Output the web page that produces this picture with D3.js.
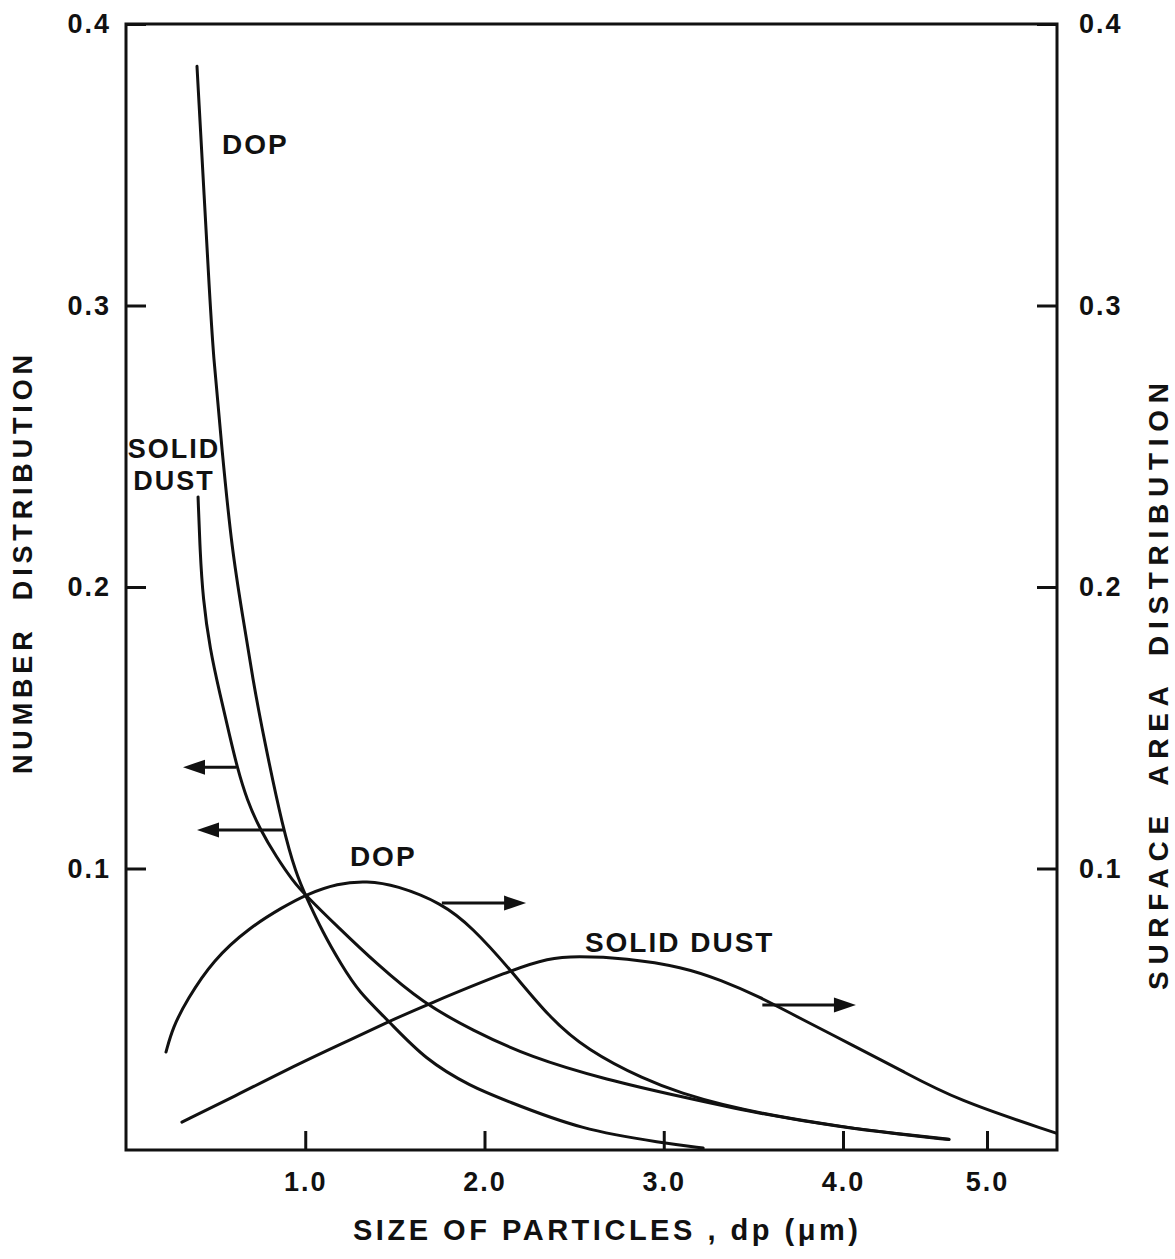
<!DOCTYPE html>
<html>
<head>
<meta charset="utf-8">
<script src="https://cdn.jsdelivr.net/npm/d3@7"></script>
<style>
  html, body { margin: 0; padding: 0; background: #fff; }
  svg { display: block; }
  text { font-family: "Liberation Sans", Arial, sans-serif; font-weight: bold; fill: #111; }
</style>
</head>
<body>
<svg id="chart" width="1175" height="1259"></svg>
<script>
// Particle size (µm) versus number / surface-area distribution
const xTicks = [1.0, 2.0, 3.0, 4.0, 5.0];
const yTicks = [0.1, 0.2, 0.3, 0.4];

// Number distribution, DOP (left axis)
const dopNumberX = [0.396, 0.468, 0.485, 0.535, 0.591, 0.653, 0.708, 0.77, 0.876, 0.95, 1.0, 1.1, 1.2, 1.3, 1.46, 1.67, 1.93, 2.11, 2.54, 3.0, 3.22];
const dopNumberY = [0.385, 0.302, 0.284, 0.249, 0.213, 0.189, 0.167, 0.146, 0.114, 0.098, 0.0906, 0.077, 0.066, 0.056, 0.0462, 0.032, 0.0224, 0.0178, 0.0071, 0.0025, 0.0007];

// Number distribution, solid dust (left axis)
const dustNumberX = [0.402, 0.413, 0.429, 0.468, 0.524, 0.58, 0.62, 0.675, 0.747, 0.84, 0.931, 1.0, 1.182, 1.40, 1.656, 1.93, 2.253, 2.683, 3.107, 3.5, 4.0, 4.375, 4.736];
const dustNumberY = [0.232, 0.213, 0.196, 0.178, 0.162, 0.1467, 0.136, 0.1243, 0.114, 0.104, 0.0956, 0.0906, 0.0792, 0.066, 0.0522, 0.0426, 0.033, 0.0249, 0.0188, 0.0133, 0.0080, 0.0057, 0.0037];

// Surface area distribution, DOP (right axis)
const dopSurfaceX = [0.223, 0.262, 0.340, 0.485, 0.692, 0.876, 0.998, 1.182, 1.344, 1.506, 1.762, 1.93, 2.147, 2.359, 2.571, 2.895, 3.107, 3.318, 3.6, 4.0, 4.375, 4.736];
const dopSurfaceY = [0.0348, 0.0437, 0.0533, 0.0675, 0.0792, 0.0863, 0.0906, 0.0948, 0.0956, 0.0941, 0.0877, 0.0792, 0.0639, 0.0472, 0.0355, 0.0249, 0.020, 0.0162, 0.0123, 0.0082, 0.0058, 0.0038];

// Surface area distribution, solid dust (right axis)
const dustSurfaceX = [0.312, 0.597, 0.970, 1.249, 1.461, 1.673, 2.147, 2.359, 2.51, 2.789, 3.107, 3.318, 3.536, 3.748, 4.09, 4.40, 4.785, 5.48];
const dustSurfaceY = [0.0099, 0.0188, 0.0309, 0.0391, 0.0455, 0.0515, 0.0639, 0.0682, 0.0689, 0.0682, 0.065, 0.0604, 0.0544, 0.0472, 0.0366, 0.0284, 0.0178, 0.006];

// Arrows telling which axis each curve belongs to: [y, tail x, head x]
const arrowY    = [0.136, 0.1137, 0.0877, 0.0515];
const arrowTail = [0.615, 0.876, 1.762, 3.55];
const arrowHead = [0.318, 0.396, 2.232, 4.09];

const svg = d3.select("#chart");
// the printed abscissa is slightly compressed beyond 4.0 µm
const x = d3.scaleLinear().domain([0, 4, 5, 5.486]).range([126, 843, 987, 1057]);
const y = d3.scaleLinear().domain([0, 0.4]).range([1150, 24]);
const fmt = d3.format(".1f");
const xLeft = x(0), xRight = x(5.486);

// axes with inward ticks
const styleAxis = g => {
  g.select(".domain").remove();
  g.selectAll(".tick line").attr("stroke", "#111").attr("stroke-width", 3);
  g.selectAll(".tick text").attr("font-size", 27).attr("letter-spacing", 2)
    .attr("font-family", "Liberation Sans, Arial, sans-serif").attr("font-weight", "bold").attr("fill", "#111");
};
svg.append("g").attr("transform", `translate(${xLeft},0)`)
  .call(d3.axisLeft(y).tickValues(yTicks).tickSize(-20).tickPadding(15).tickFormat(fmt))
  .call(styleAxis);
svg.append("g").attr("transform", `translate(${xRight},0)`)
  .call(d3.axisRight(y).tickValues(yTicks).tickSize(-20).tickPadding(22).tickFormat(fmt))
  .call(styleAxis);
svg.append("g").attr("transform", `translate(0,${y.range()[0]})`)
  .call(d3.axisBottom(x).tickValues(xTicks).tickSize(-19).tickPadding(22).tickFormat(fmt))
  .call(styleAxis);

// frame
svg.append("rect")
  .attr("x", xLeft).attr("y", y.range()[1])
  .attr("width", xRight - xLeft)
  .attr("height", y.range()[0] - y.range()[1])
  .attr("fill", "none").attr("stroke", "#111").attr("stroke-width", 3);

// curves
const line = d3.line().x(d => x(d[0])).y(d => y(d[1])).curve(d3.curveBasis);
const series = [
  [dopNumberX, dopNumberY],
  [dustNumberX, dustNumberY],
  [dopSurfaceX, dopSurfaceY],
  [dustSurfaceX, dustSurfaceY]
];
series.forEach(([xs, ys]) => {
  svg.append("path")
    .datum(xs.map((v, i) => [v, ys[i]]))
    .attr("d", line)
    .attr("fill", "none").attr("stroke", "#111")
    .attr("stroke-width", 3).attr("stroke-linejoin", "round").attr("stroke-linecap", "round");
});

// arrows
arrowY.forEach((v, i) => {
  const yy = y(v), x0 = x(arrowTail[i]), x1 = x(arrowHead[i]);
  const dir = Math.sign(x1 - x0), L = 22, W = 7.5;
  svg.append("line")
    .attr("x1", x0).attr("x2", x1 - dir * (L - 2)).attr("y1", yy).attr("y2", yy)
    .attr("stroke", "#111").attr("stroke-width", 3);
  svg.append("path")
    .attr("d", `M${x1},${yy} L${x1 - dir * L},${yy - W} L${x1 - dir * L},${yy + W} Z`)
    .attr("fill", "#111");
});

// curve labels
const labels = [
  { t: "DOP", x: 0.536, y: 0.3537, anchor: "start", size: 28 },
  { t: "SOLID", x: 0.268, y: 0.2458, anchor: "middle", size: 27 },
  { t: "DUST", x: 0.268, y: 0.2345, anchor: "middle", size: 27 },
  { t: "DOP", x: 1.249, y: 0.1008, anchor: "start", size: 28 },
  { t: "SOLID DUST", x: 2.56, y: 0.0703, anchor: "start", size: 28 }
];
labels.forEach(d => {
  svg.append("text")
    .attr("x", x(d.x)).attr("y", y(d.y))
    .attr("text-anchor", d.anchor)
    .attr("font-size", d.size)
    .attr("letter-spacing", 2)
    .text(d.t);
});

// axis titles
svg.append("text")
  .attr("x", 353).attr("y", 1240)
  .attr("font-size", 29)
  .attr("textLength", 505).attr("lengthAdjust", "spacing")
  .text("SIZE OF PARTICLES , dp (\u03bcm)");

svg.append("text")
  .attr("transform", "translate(32,774) rotate(-90)")
  .attr("font-size", 27)
  .attr("textLength", 419).attr("lengthAdjust", "spacing")
  .attr("word-spacing", 14)
  .text("NUMBER DISTRIBUTION");

svg.append("text")
  .attr("transform", "translate(1168,990) rotate(-90)")
  .attr("font-size", 28)
  .attr("textLength", 607).attr("lengthAdjust", "spacing")
  .attr("word-spacing", 10)
  .text("SURFACE AREA DISTRIBUTION");
</script>
</body>
</html>
